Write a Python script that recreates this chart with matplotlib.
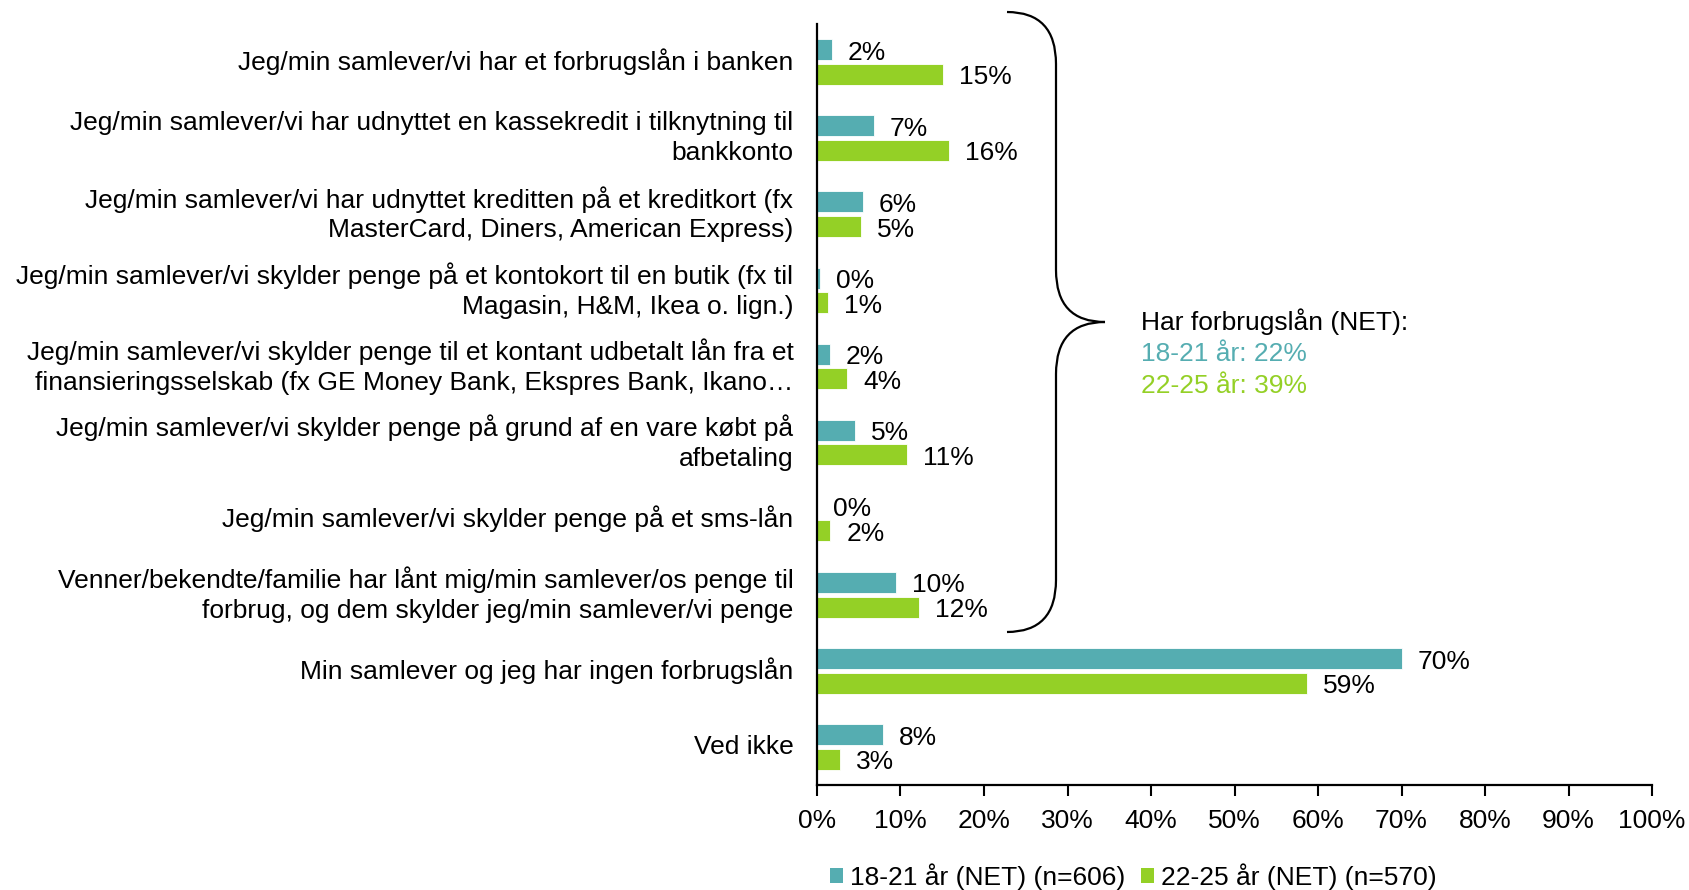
import matplotlib
matplotlib.use("Agg")
import matplotlib.pyplot as plt
from matplotlib.path import Path
from matplotlib.patches import PathPatch, Patch
import numpy as np

plt.rcParams['font.family'] = ['Liberation Sans', 'DejaVu Sans']

categories = [
    "Jeg/min samlever/vi har et forbrugslån i banken",
    "Jeg/min samlever/vi har udnyttet en kassekredit i tilknytning til\nbankkonto",
    "Jeg/min samlever/vi har udnyttet kreditten på et kreditkort (fx\nMasterCard, Diners, American Express)",
    "Jeg/min samlever/vi skylder penge på et kontokort til en butik (fx til\nMagasin, H&M, Ikea o. lign.)",
    "Jeg/min samlever/vi skylder penge til et kontant udbetalt lån fra et\nfinansieringsselskab (fx GE Money Bank, Ekspres Bank, Ikano…",
    "Jeg/min samlever/vi skylder penge på grund af en vare købt på\nafbetaling",
    "Jeg/min samlever/vi skylder penge på et sms-lån",
    "Venner/bekendte/familie har lånt mig/min samlever/os penge til\nforbrug, og dem skylder jeg/min samlever/vi penge",
    "Min samlever og jeg har ingen forbrugslån",
    "Ved ikke",
]
series_names = ["18-21 år (NET) (n=606)", "22-25 år (NET) (n=570)"]
values_1821 = [1.8, 6.8, 5.5, 0.3, 1.5, 4.6, 0.0, 9.5, 70.0, 7.9]
values_2225 = [15.1, 15.8, 5.3, 1.3, 3.6, 10.8, 1.6, 12.2, 58.7, 2.7]
labels_1821 = ["2%", "7%", "6%", "0%", "2%", "5%", "0%", "10%", "70%", "8%"]
labels_2225 = ["15%", "16%", "5%", "1%", "4%", "11%", "2%", "12%", "59%", "3%"]
xticks = [0, 10, 20, 30, 40, 50, 60, 70, 80, 90, 100]
net_title = "Har forbrugslån (NET):"
net_lines = ["18-21 år: 22%", "22-25 år: 39%"]

TEAL = "#55ADB1"
GREEN = "#94D026"
FS = 19

W, H = 1690, 890
fig = plt.figure(figsize=(W / 100, H / 100), dpi=100)
ax = fig.add_axes([817 / W, 1 - 785 / H, (1652 - 817) / W, (785 - 24) / H])

y = np.arange(len(categories))
bh = 0.276
off = 0.161
ax.barh(y - off, values_1821, height=bh, color=TEAL, edgecolor="white", linewidth=0.6)
ax.barh(y + off, values_2225, height=bh, color=GREEN, edgecolor="white", linewidth=0.6)

for yi, v, lab in zip(y, values_1821, labels_1821):
    ax.annotate(lab, (v, yi - off), xytext=(16, -3), textcoords="offset pixels",
                ha="left", va="center", fontsize=FS)
for yi, v, lab in zip(y, values_2225, labels_2225):
    ax.annotate(lab, (v, yi + off), xytext=(16, -3), textcoords="offset pixels",
                ha="left", va="center", fontsize=FS)

ax.set_ylim(len(categories) - 0.5, -0.5)
ax.set_xlim(0, 100)
ax.set_yticks(y)
ax.set_yticklabels(categories, fontsize=FS, linespacing=1.3, va="center")
ax.tick_params(axis="y", length=0, pad=17)
ax.set_xticks(xticks)
ax.set_xticklabels([f"{t}%" for t in xticks], fontsize=FS)
ax.tick_params(axis="x", direction="out", length=8, width=1.5, pad=9)
for s in ["top", "right"]:
    ax.spines[s].set_visible(False)
for s in ["left", "bottom"]:
    ax.spines[s].set_linewidth(1.6)
    ax.spines[s].set_color("black")

# brace (figure pixel coordinates converted to fractions)
def P(px, py):
    return (px / W, 1 - py / H)

xl, xm, xt = 1007, 1056, 1105
yt, ytip, yb = 12, 322, 632
r = 52
verts = [P(xl, yt), P(xm, yt), P(xm, yt + r), P(xm, ytip - r), P(xm, ytip), P(xt, ytip),
         P(xt, ytip), P(xm, ytip), P(xm, ytip + r), P(xm, yb - r), P(xm, yb), P(xl, yb)]
codes = [Path.MOVETO, Path.CURVE3, Path.CURVE3, Path.LINETO, Path.CURVE3, Path.CURVE3,
         Path.MOVETO, Path.CURVE3, Path.CURVE3, Path.LINETO, Path.CURVE3, Path.CURVE3]
fig.patches.append(PathPatch(Path(verts, codes), transform=fig.transFigure,
                             fill=False, edgecolor="black", linewidth=1.6))

fig.text(1141 / W, 1 - 322 / H, net_title, fontsize=FS, ha="left", va="center")
fig.text(1141 / W, 1 - 354 / H, net_lines[0], fontsize=FS, ha="left", va="center", color=TEAL)
fig.text(1141 / W, 1 - 386 / H, net_lines[1], fontsize=FS, ha="left", va="center", color=GREEN)

handles = [Patch(facecolor=TEAL, edgecolor="none"), Patch(facecolor=GREEN, edgecolor="none")]
fig.legend(handles, series_names, loc="center", bbox_to_anchor=(1133 / W, 1 - 877 / H),
           ncol=2, frameon=False, fontsize=FS, handlelength=0.5, handleheight=0.5,
           handletextpad=0.25, columnspacing=0.6, borderaxespad=0)

fig.savefig("out.png", dpi=100)
